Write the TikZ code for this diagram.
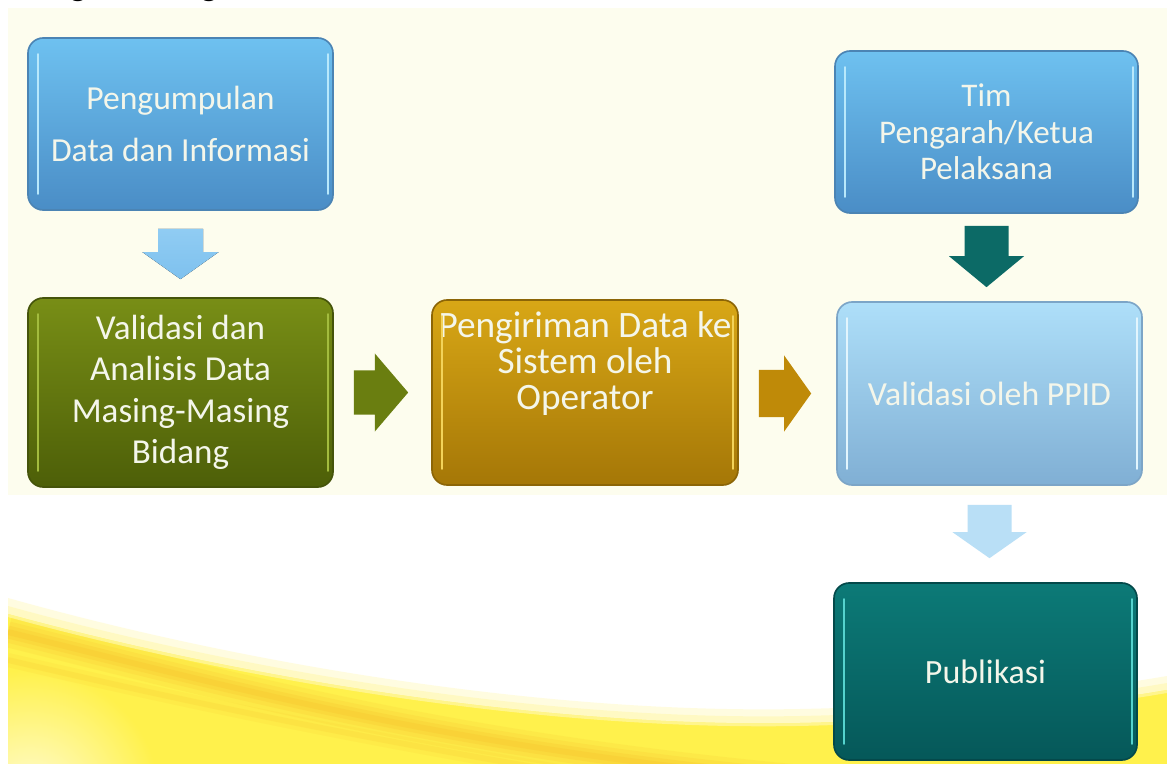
\documentclass[tikz,border=0pt]{standalone}
\usepackage{fontspec}
\setmainfont{Carlito}
\usetikzlibrary{calc}

\definecolor{cream}{HTML}{FDFDEE}
\definecolor{boxtext}{HTML}{F4F6EA}
\definecolor{bluetop}{HTML}{6EC1F0}
\definecolor{bluebot}{HTML}{4A8DC6}
\definecolor{bluerim}{HTML}{4B84B4}
\definecolor{bluehi}{HTML}{B8E8FB}
\definecolor{greentop}{HTML}{788E16}
\definecolor{greenbot}{HTML}{4D5F08}
\definecolor{greenrim}{HTML}{45540A}
\definecolor{greenhi}{HTML}{A3BC3E}
\definecolor{goldtop}{HTML}{D8A716}
\definecolor{goldbot}{HTML}{A57707}
\definecolor{goldrim}{HTML}{8C6506}
\definecolor{goldhi}{HTML}{F3D35A}
\definecolor{paletop}{HTML}{AEDFF9}
\definecolor{palebot}{HTML}{80AFD4}
\definecolor{palerim}{HTML}{7CA5C7}
\definecolor{palehi}{HTML}{E2F5FD}
\definecolor{tealtop}{HTML}{0C7A77}
\definecolor{tealbot}{HTML}{055859}
\definecolor{tealrim}{HTML}{04494A}
\definecolor{tealhi}{HTML}{55D3CE}
\definecolor{arrowblue}{HTML}{7EC1EE}
\definecolor{arrowbluetop}{HTML}{90CCF3}
\definecolor{arrowgreen}{HTML}{6A7E10}
\definecolor{arrowgold}{HTML}{BF8A08}
\definecolor{arrowteal}{HTML}{0C6A66}
\definecolor{arrowpale}{HTML}{B9DFF6}
\definecolor{swyellow}{HTML}{FFF14C}
\definecolor{swlight}{HTML}{FFF8A8}
\definecolor{sworange}{HTML}{F8C22E}
\definecolor{swpale}{HTML}{FFFCD6}

\tikzset{
  box/.style={draw, line width=1.4pt, rounded corners=13pt, inner sep=0pt,
    align=center, text=boxtext},
  bluebox/.style={box, top color=bluetop, bottom color=bluebot, draw=bluerim},
  greenbox/.style={box, top color=greentop, bottom color=greenbot, draw=greenrim},
  goldbox/.style={box, top color=goldtop, bottom color=goldbot, draw=goldrim},
  palebox/.style={box, top color=paletop, bottom color=palebot, draw=palerim},
  tealbox/.style={box, top color=tealtop, bottom color=tealbot, draw=tealrim},
  boxlabel/.style={inner sep=0pt, align=center, text=boxtext},
  headfrag/.style={anchor=base, inner sep=0pt, font=\fontsize{30.7pt}{36pt}\selectfont},
}

% block arrow from #1 (tail centre) to #2 (tip):
% #3 half shaft width, #4 half head width, #5 head length, #6 fill options
\newcommand{\blockarrow}[6]{%
  \coordinate (hb) at ($(#2)!#5!(#1)$);
  \fill[#6] ($(#1)!#3!90:(#2)$) -- ($(hb)!#3!90:(#2)$) -- ($(hb)!#4!90:(#2)$)
    -- (#2) -- ($(hb)!#4!-90:(#2)$) -- ($(hb)!#3!-90:(#2)$)
    -- ($(#1)!#3!-90:(#2)$) -- cycle;}

% light edges that give the boxes their raised look
\newcommand{\bevel}[2]{%
  \draw[#2, line width=2pt, line cap=round]
    ($(#1.north west)+(11,17)$) -- ($(#1.south west)+(11,-17)$);
  \draw[#2, line width=2pt, line cap=round]
    ($(#1.north east)+(-6,17)$) -- ($(#1.south east)+(-6,-17)$);}

% upper edge of the swoosh
\def\swooshtop{(8,614) .. controls (250,680) and (550,728) .. (800,723)
    .. controls (950,720) and (1080,705) .. (1167,690)}

\begin{document}
\begin{tikzpicture}[x=0.03cm, y=-0.03cm]
\useasboundingbox (0,0) rectangle (1167,764);
\fill[white] (0,0) rectangle (1167,764);

% descenders of the heading line above the frame
\begin{scope}
  \clip (0,0) rectangle (1167,6);
  \node[headfrag] (hg1) at (78,-4) {g};
  \node[headfrag] (hg2) at (209,-4) {g};
\end{scope}

% cream panel behind the flow
\fill[cream] (8,8) rectangle (1167,495);

% yellow swoosh at the bottom
\begin{scope}
  \clip (8,495) rectangle (1167,764);
  \fill[swlight, opacity=0.35] (8,598) .. controls (250,666) and (550,714) .. (800,709)
    .. controls (950,706) and (1080,691) .. (1167,676) -- (1167,764) -- (8,764) -- cycle;
  \fill[swlight, opacity=0.5] (8,606) .. controls (250,673) and (550,721) .. (800,716)
    .. controls (950,713) and (1080,698) .. (1167,683) -- (1167,764) -- (8,764) -- cycle;
  \fill[swyellow] \swooshtop -- (1167,764) -- (8,764) -- cycle;
  \begin{scope}
    \clip \swooshtop -- (1167,764) -- (8,764) -- cycle;
    \shade[inner color=swpale, outer color=swyellow] (30,800) circle (130);
    \foreach \w/\o in {26/0.15, 18/0.2, 11/0.25, 5/0.3}
      \draw[sworange, line width=\w pt, opacity=\o]
        (8,632) .. controls (250,692) and (450,747) .. (800,780);
    \foreach \w/\o in {12/0.12, 5/0.18}
      \draw[sworange, line width=\w pt, opacity=\o]
        (8,660) .. controls (200,705) and (380,742) .. (600,778);
    \draw[swlight, line width=5pt, opacity=0.7] \swooshtop;
  \end{scope}
\end{scope}

% boxes
\node[bluebox, minimum width=9.15cm, minimum height=5.16cm,
      font=\fontsize{28.7pt}{44.4pt}\selectfont] (b1) at (180.5,124)
      {Pengumpulan\\Data dan Informasi};
\node[greenbox, minimum width=9.15cm, minimum height=5.67cm,
      font=\fontsize{29.9pt}{35.4pt}\selectfont] (b2) at (180.5,392.5)
      {Validasi dan\\Analisis Data\\Masing-Masing\\Bidang};
\node[goldbox, minimum width=9.18cm, minimum height=5.55cm] (b3) at (585,392.5) {};
\node[boxlabel, font=\fontsize{31.8pt}{30.4pt}\selectfont] (b3t) at ($(b3.center)+(0,-29)$)
      {Pengiriman Data ke\\Sistem oleh\\Operator};
\node[palebox, minimum width=9.15cm, minimum height=5.49cm,
      font=\fontsize{28.8pt}{34pt}\selectfont] (b4) at (989.5,393.5)
      {Validasi oleh PPID};
\node[bluebox, minimum width=9.09cm, minimum height=4.86cm,
      font=\fontsize{28.2pt}{31.2pt}\selectfont] (tim) at (986.5,132)
      {Tim\\Pengarah/Ketua\\Pelaksana};
\node[tealbox, minimum width=9.09cm, minimum height=5.31cm,
      font=\fontsize{29pt}{34pt}\selectfont] (pub) at (985.5,671.5)
      {Publikasi};

\bevel{b1}{bluehi}
\bevel{b2}{greenhi}
\bevel{b3}{goldhi}
\bevel{b4}{palehi}
\bevel{tim}{bluehi}
\bevel{pub}{tealhi}

% arrows between the steps
\coordinate (a1s) at ($(b1.south)+(0,18)$);
\coordinate (a1e) at ($(b1.south |- b2.north)+(0,-18)$);
\blockarrow{a1s}{a1e}{0.675cm}{1.14cm}{0.81cm}{top color=arrowbluetop, bottom color=arrowblue}

\coordinate (a2s) at ($(b2.east)+(20,0)$);
\coordinate (a2e) at ($(b3.west |- b2.east)+(-23,0)$);
\blockarrow{a2s}{a2e}{0.66cm}{1.17cm}{1.0cm}{arrowgreen}

\coordinate (a3s) at ($(b3.east)+(20,1)$);
\coordinate (a3e) at ($(b4.west |- b3.east)+(-25,1)$);
\blockarrow{a3s}{a3e}{0.705cm}{1.14cm}{0.81cm}{arrowgold}

\coordinate (a4s) at ($(tim.south)+(0,12)$);
\coordinate (a4e) at ($(tim.south |- b4.north)+(0,-14)$);
\blockarrow{a4s}{a4e}{0.66cm}{1.125cm}{0.93cm}{arrowteal}

\coordinate (a5s) at ($(b4.south)+(0,19)$);
\coordinate (a5e) at ($(b4.south |- pub.north)+(0,-24)$);
\blockarrow{a5s}{a5e}{0.66cm}{1.11cm}{0.78cm}{arrowpale}
\end{tikzpicture}
\end{document}
